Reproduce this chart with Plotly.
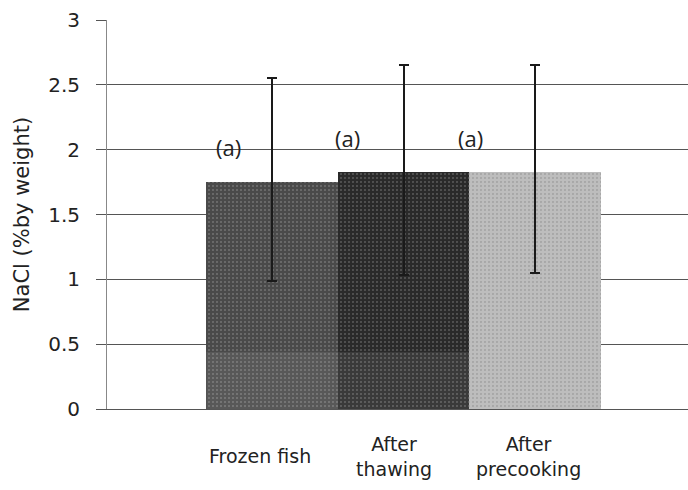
import plotly.graph_objects as go

categories = ["Frozen fish", "After thawing", "After precooking"]
tick_labels = ["Frozen fish", "After<br>thawing", "After<br>precooking"]
nacl_mean = [1.75, 1.83, 1.83]
err_plus = [0.80, 0.82, 0.82]
err_minus = [0.76, 0.80, 0.78]
letters = ["(a)", "(a)", "(a)"]

bar_colors = ["#4a4a4a", "#2a2a2a", "#bdbdbd"]
letter_shift = [-44, -56, -65]
letter_y = [2.02, 2.09, 2.09]
label_shift = [-12, -10, -7]

fig = go.Figure()
fig.add_trace(go.Bar(
    x=categories, y=nacl_mean,
    marker=dict(color=bar_colors, line=dict(width=0),
                pattern=dict(shape=".", fgcolor="#8a8a8a", size=4, solidity=0.08, fillmode="overlay")),
    width=1.0,
    error_y=dict(type="data", symmetric=False, array=err_plus, arrayminus=err_minus,
                 color="#1a1a1a", thickness=2, width=5),
    showlegend=False,
))

# scan artefact: lighter lower band on the two darker bars
fig.add_shape(type="rect", xref="x", yref="y", x0=-0.5, x1=1.5, y0=0, y1=0.44,
              fillcolor="rgba(255,255,255,0.08)", line=dict(width=0), layer="above")

for i, c in enumerate(categories):
    fig.add_annotation(x=c, y=letter_y[i], text=letters[i], showarrow=False,
                       xshift=letter_shift[i], font=dict(size=22, color="#222", family="Open Sans"))
    fig.add_annotation(x=c, y=0, yref="y", text=tick_labels[i], showarrow=False,
                       xshift=label_shift[i], yshift=-47, yanchor="middle",
                       font=dict(size=19, color="#222", family="DejaVu Sans"),
                       )

fig.update_layout(
    width=688, height=490,
    margin=dict(l=107, r=0, t=20, b=81),
    paper_bgcolor="white", plot_bgcolor="white",
    bargap=0,
    xaxis=dict(range=[-1.255, 3.163], showticklabels=False, showgrid=False,
               showline=True, linecolor="#555", linewidth=1, zeroline=False, fixedrange=True),
    yaxis=dict(range=[0, 3], tickvals=[0, 0.5, 1, 1.5, 2, 2.5, 3],
               ticktext=["0", "0.5", "1", "1.5", "2", "2.5", "3"],
               showgrid=True, gridcolor="#555", gridwidth=1,
               showline=True, linecolor="#888", linewidth=1,
               ticks="outside", ticklen=10, tickcolor="#555",
               ticklabelstandoff=12,
               zeroline=False,
               tickfont=dict(size=20, color="#222", family="DejaVu Sans"),
               title=dict(text="NaCl (%by weight)", font=dict(size=21, color="#222", family="DejaVu Sans"),
                          standoff=12)),
)

fig.write_html("out.html")
